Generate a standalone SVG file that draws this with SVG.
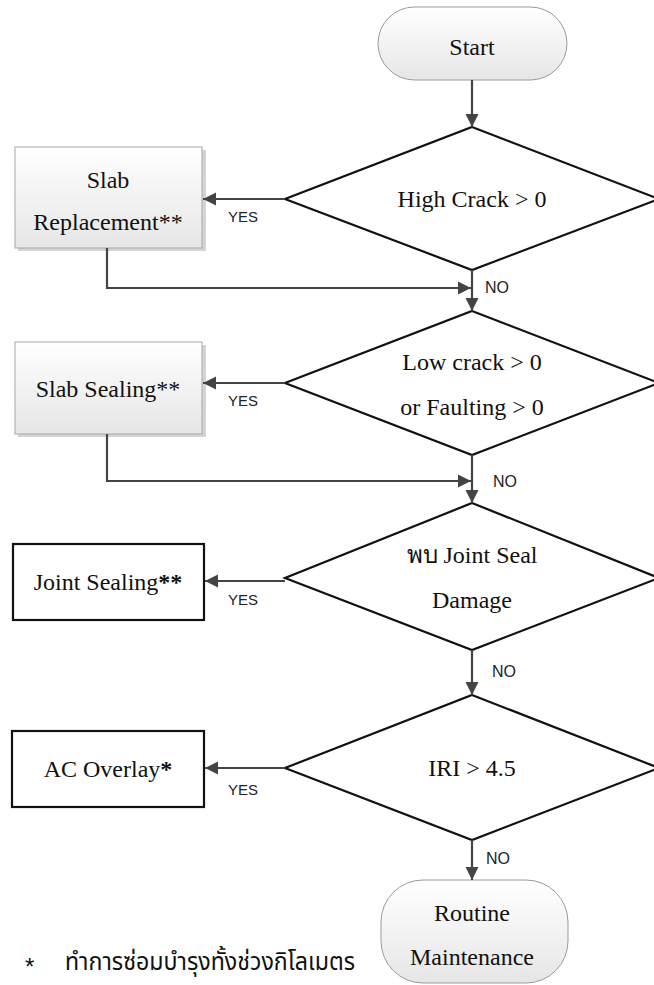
<svg xmlns="http://www.w3.org/2000/svg" width="654" height="985" viewBox="0 0 654 985">
<style>
.t{font-family:"Liberation Serif","Times New Roman",serif;font-size:24px;fill:#111;text-anchor:middle}
.lbl{font-family:"Liberation Sans",Arial,sans-serif;font-size:15px;fill:#222}
.no{font-family:"Liberation Sans",Arial,sans-serif;font-size:16px;fill:#222}
.dia{fill:#fff;stroke:#111;stroke-width:2.2}
.term{fill:url(#g);stroke:#9a9a9a;stroke-width:1}
.gbox{fill:url(#g);stroke:#a8a8a8;stroke-width:1}
.bbox{fill:#fff;stroke:#111;stroke-width:2.2}
.c{fill:none;stroke:#444;stroke-width:2.2}
</style>
<defs>
<linearGradient id="g" x1="0" y1="0" x2="0" y2="1">
<stop offset="0" stop-color="#ffffff"/>
<stop offset="1" stop-color="#e6e6e6"/>
</linearGradient>
<marker id="a" viewBox="0 0 10 10" refX="10" refY="5" markerWidth="6" markerHeight="6" markerUnits="strokeWidth" orient="auto">
<path d="M0,0 L10,5 L0,10 z" fill="#444"/>
</marker>
</defs>

<g id="start">
<rect x="378" y="7" width="189" height="73" rx="36.5" ry="36.5" class="term"/>
<text x="472" y="55" class="t">Start</text>
</g>

<g id="d1">
<polygon points="472,127 659,199 472,270 285,199" class="dia"/>
<text x="472" y="207" class="t">High Crack &gt; 0</text>
</g>

<g id="slabrep">
<rect x="18" y="150" width="188" height="101" fill="#d4d4d4"/>
<rect x="15" y="147" width="187" height="101" class="gbox"/>
<text x="108" y="188" class="t">Slab</text>
<text x="108" y="230" class="t">Replacement**</text>
</g>

<g id="d2">
<polygon points="472,311 659,383 472,455 285,383" class="dia"/>
<text x="472" y="370" class="t">Low crack &gt; 0</text>
<text x="472" y="415" class="t">or Faulting &gt; 0</text>
</g>

<g id="slabseal">
<rect x="18" y="345" width="188" height="92" fill="#d4d4d4"/>
<rect x="15" y="342" width="187" height="92" class="gbox"/>
<text x="108" y="397" class="t">Slab Sealing**</text>
</g>

<g id="d3">
<polygon points="472,503 659,578 472,650 285,578" class="dia"/>
<text x="472" y="563" class="t">พบ Joint Seal</text>
<text x="472" y="608" class="t">Damage</text>
</g>

<g id="jointseal">
<rect x="13" y="544" width="191" height="76" class="bbox"/>
<text x="108" y="590" class="t">Joint Sealing<tspan font-weight="bold">**</tspan></text>
</g>

<g id="d4">
<polygon points="472,695 659,768 472,840 285,768" class="dia"/>
<text x="472" y="776" class="t">IRI &gt; 4.5</text>
</g>

<g id="acoverlay">
<rect x="12" y="731" width="192" height="76" class="bbox"/>
<text x="108" y="777" class="t">AC Overlay<tspan font-weight="bold">*</tspan></text>
</g>

<g id="routine">
<rect x="381" y="880" width="187" height="103" rx="42" ry="42" class="term"/>
<text x="472" y="921" class="t">Routine</text>
<text x="472" y="965" class="t">Maintenance</text>
</g>

<g id="connectors">
<path d="M472,80 L472,127" class="c" marker-end="url(#a)"/>
<path d="M285,199 L203,199" class="c" marker-end="url(#a)"/>
<path d="M107,248 L107,288 L471,288" class="c" marker-end="url(#a)"/>
<path d="M472,270 L472,311" class="c" marker-end="url(#a)"/>
<path d="M285,383 L203,383" class="c" marker-end="url(#a)"/>
<path d="M107,434 L107,481 L471,481" class="c" marker-end="url(#a)"/>
<path d="M472,455 L472,503" class="c" marker-end="url(#a)"/>
<path d="M285,581 L205,581" class="c" marker-end="url(#a)"/>
<path d="M472,650 L472,695" class="c" marker-end="url(#a)"/>
<path d="M285,768 L205,768" class="c" marker-end="url(#a)"/>
<path d="M472,840 L472,880" class="c" marker-end="url(#a)"/>
</g>

<g id="labels">
<text x="228" y="222" class="lbl">YES</text>
<text x="228" y="406" class="lbl">YES</text>
<text x="228" y="605" class="lbl">YES</text>
<text x="228" y="795" class="lbl">YES</text>
<text x="485" y="293" class="no">NO</text>
<text x="493" y="487" class="no">NO</text>
<text x="492" y="677" class="no">NO</text>
<text x="486" y="864" class="no">NO</text>
</g>

<g id="footnote">
<text x="25" y="975" font-family="'Liberation Sans',Arial,sans-serif" font-size="24" fill="#111">*</text>
<text x="65" y="970" font-family="'Noto Sans Thai','Noto Sans','DejaVu Sans',sans-serif" font-size="25" fill="#111" textLength="290" lengthAdjust="spacingAndGlyphs">ทำการซ่อมบำรุงทั้งช่วงกิโลเมตร</text>
</g>
</svg>
